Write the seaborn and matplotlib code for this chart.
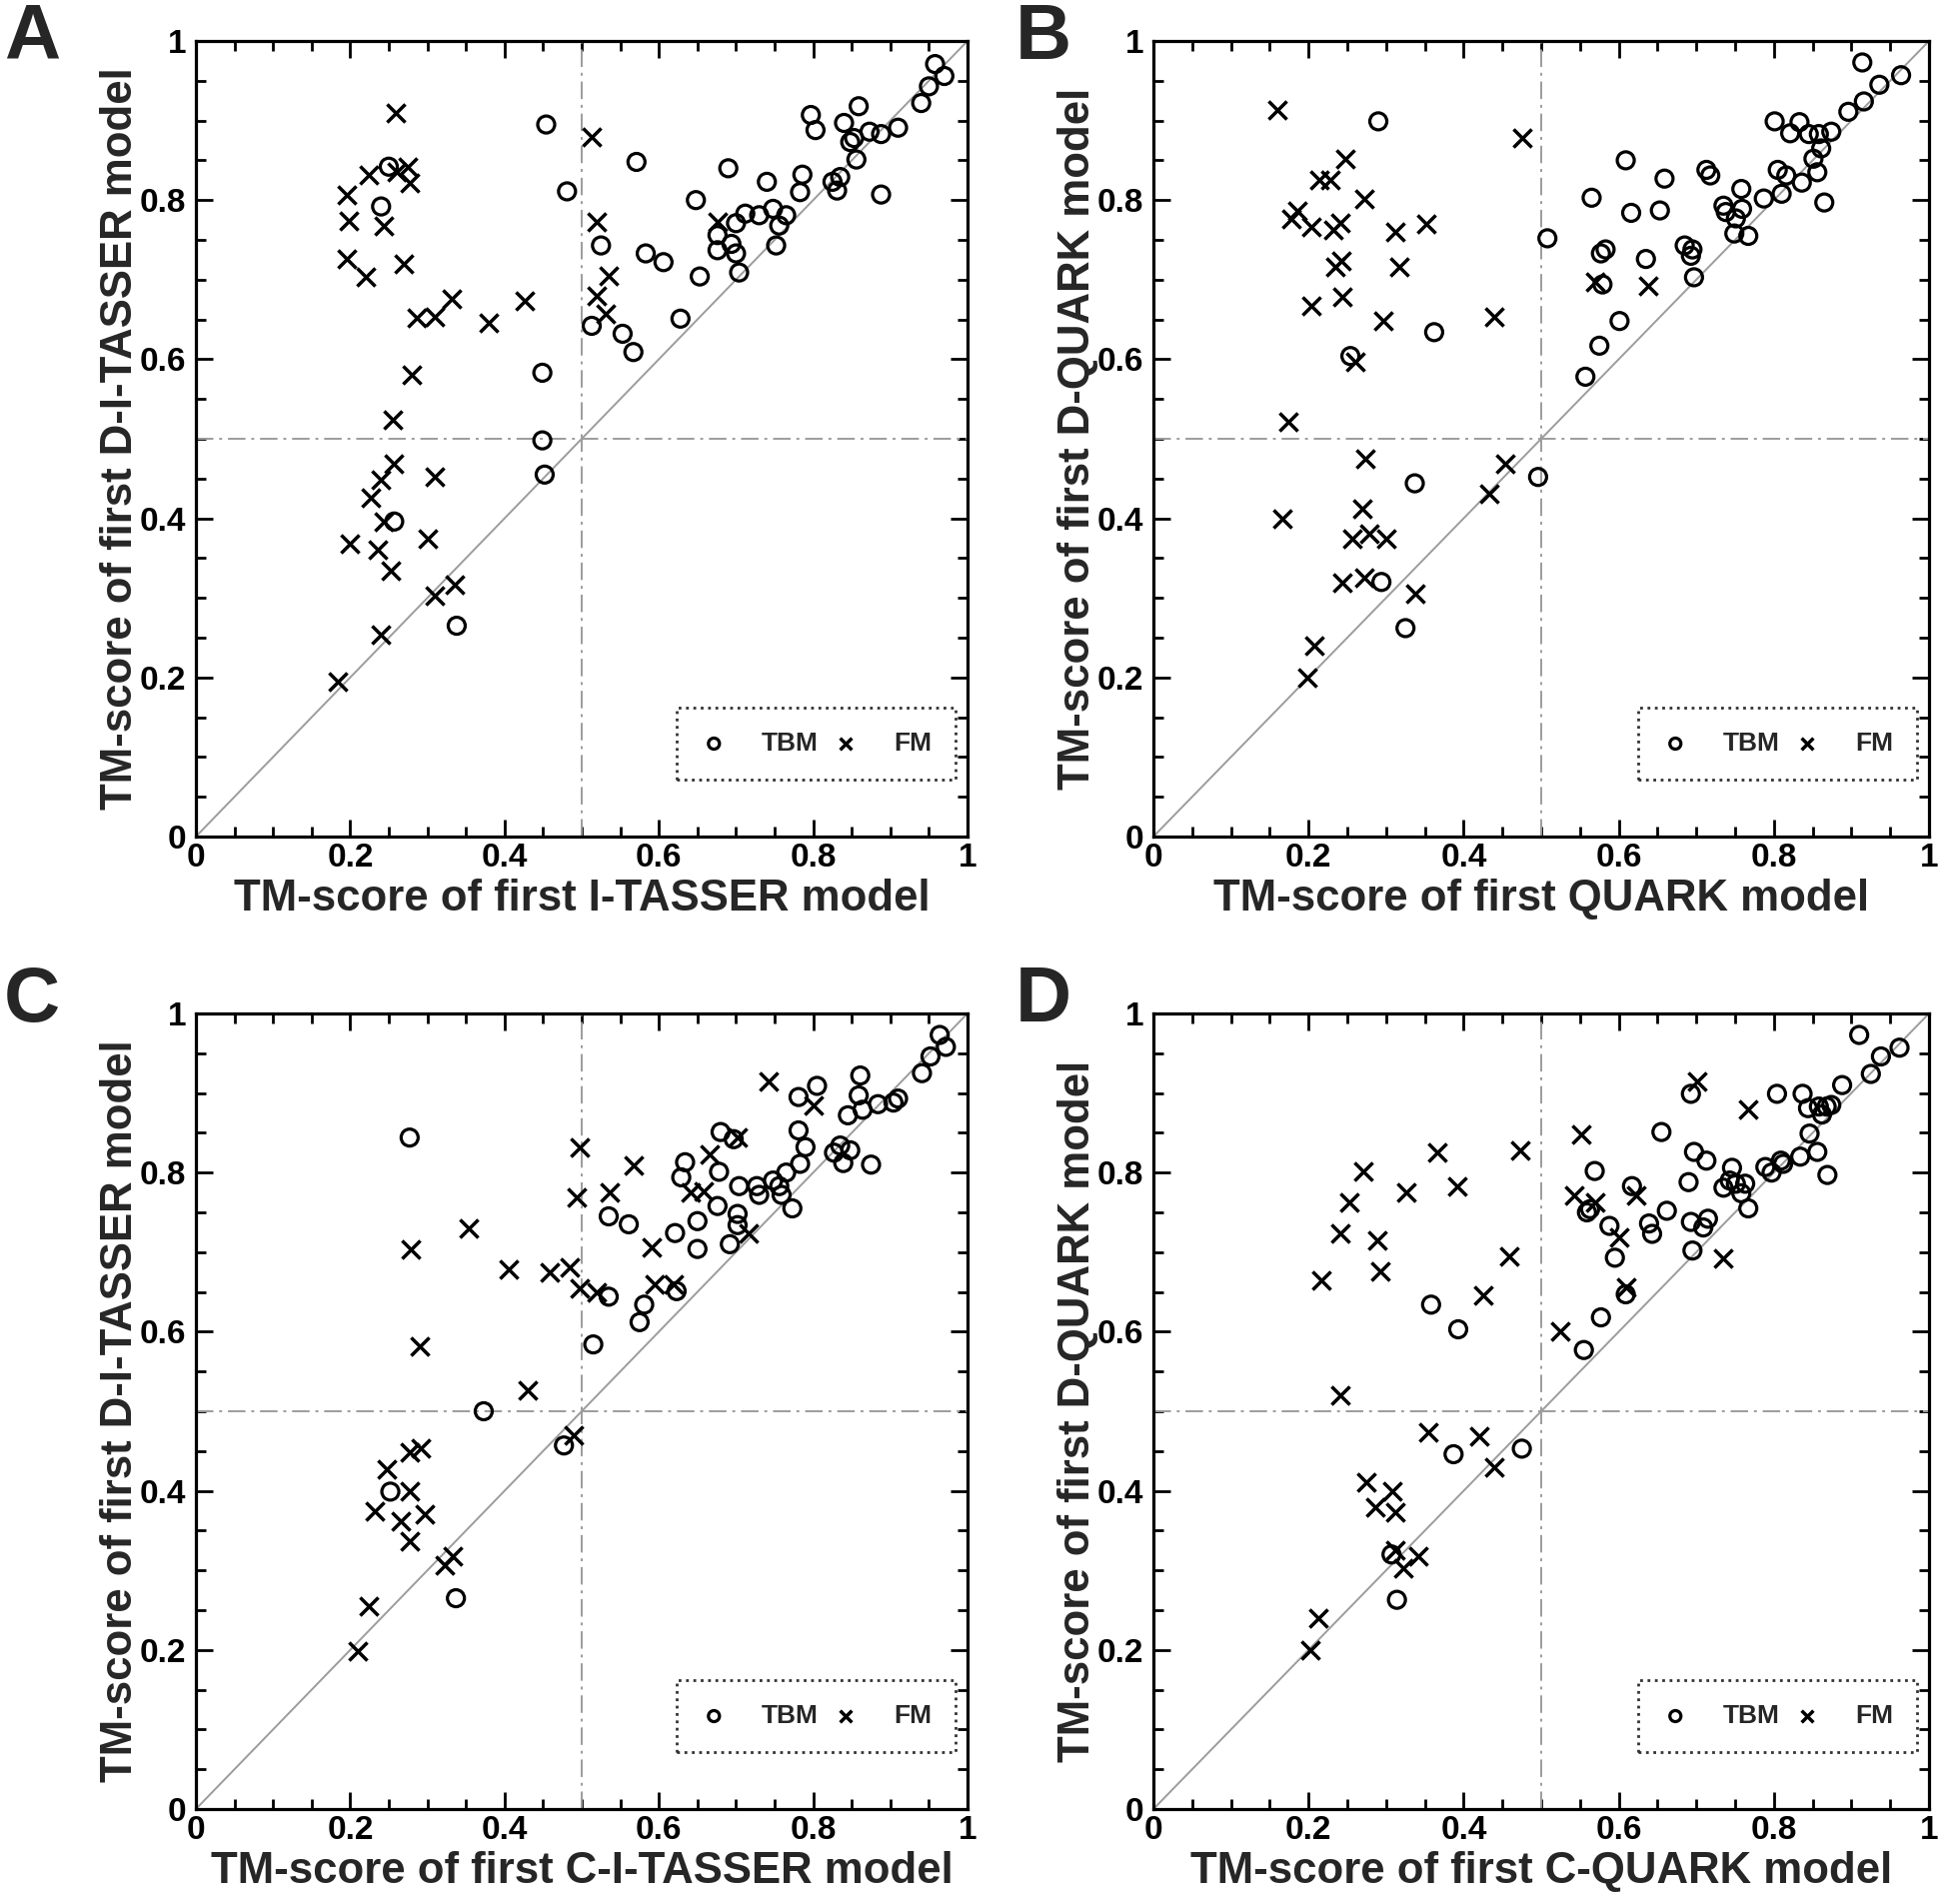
import numpy as np
import pandas as pd
import matplotlib
matplotlib.use("Agg")
import matplotlib.pyplot as plt
import seaborn as sns
from matplotlib.ticker import MultipleLocator, FuncFormatter

# ---- data (TBM = circles, FM = crosses) ----
a_tbm_x = [0.454, 0.571, 0.481, 0.240, 0.250, 0.449, 0.449, 0.452, 0.257, 0.338,
           0.513, 0.525, 0.553, 0.567, 0.583, 0.606, 0.628, 0.648, 0.653, 0.690,
           0.676, 0.676, 0.694, 0.700, 0.700, 0.704, 0.712, 0.730, 0.740, 0.748,
           0.756, 0.752, 0.765, 0.786, 0.783, 0.797, 0.803, 0.825, 0.831, 0.835,
           0.840, 0.848, 0.853, 0.856, 0.859, 0.873, 0.888, 0.888, 0.910, 0.940,
           0.950, 0.958, 0.970]
a_tbm_y = [0.895, 0.848, 0.811, 0.792, 0.842, 0.583, 0.498, 0.455, 0.396, 0.265,
           0.642, 0.743, 0.632, 0.609, 0.733, 0.722, 0.651, 0.800, 0.704, 0.840,
           0.756, 0.737, 0.745, 0.771, 0.733, 0.709, 0.783, 0.781, 0.823, 0.789,
           0.768, 0.743, 0.781, 0.832, 0.810, 0.907, 0.888, 0.823, 0.812, 0.829,
           0.897, 0.873, 0.878, 0.851, 0.918, 0.886, 0.883, 0.807, 0.891, 0.922,
           0.943, 0.971, 0.956]
a_fm_x = [0.259, 0.224, 0.196, 0.198, 0.196, 0.220, 0.244, 0.260, 0.275, 0.277,
          0.269, 0.286, 0.309, 0.331, 0.379, 0.426, 0.280, 0.255, 0.257, 0.240,
          0.227, 0.244, 0.200, 0.236, 0.252, 0.240, 0.184, 0.301, 0.309, 0.309,
          0.335, 0.513, 0.520, 0.520, 0.535, 0.531, 0.676]
a_fm_y = [0.910, 0.832, 0.806, 0.774, 0.726, 0.704, 0.768, 0.836, 0.842, 0.821,
          0.720, 0.652, 0.653, 0.676, 0.646, 0.673, 0.580, 0.524, 0.468, 0.448,
          0.426, 0.396, 0.368, 0.360, 0.334, 0.254, 0.195, 0.374, 0.452, 0.303,
          0.316, 0.880, 0.773, 0.680, 0.705, 0.657, 0.773]

b_tbm_x = [0.290, 0.254, 0.362, 0.337, 0.294, 0.325, 0.496, 0.508, 0.557, 0.575,
           0.601, 0.565, 0.577, 0.583, 0.579, 0.609, 0.616, 0.635, 0.653, 0.659,
           0.685, 0.695, 0.693, 0.697, 0.713, 0.718, 0.735, 0.738, 0.751, 0.749,
           0.759, 0.758, 0.767, 0.787, 0.801, 0.805, 0.810, 0.816, 0.821, 0.833,
           0.836, 0.845, 0.851, 0.856, 0.858, 0.861, 0.865, 0.874, 0.896, 0.916,
           0.914, 0.936, 0.964]
b_tbm_y = [0.899, 0.604, 0.634, 0.444, 0.320, 0.262, 0.452, 0.752, 0.578, 0.617,
           0.648, 0.803, 0.733, 0.738, 0.694, 0.850, 0.784, 0.726, 0.787, 0.827,
           0.743, 0.738, 0.730, 0.703, 0.838, 0.831, 0.793, 0.785, 0.777, 0.758,
           0.789, 0.814, 0.755, 0.802, 0.899, 0.838, 0.808, 0.831, 0.884, 0.898,
           0.822, 0.883, 0.852, 0.835, 0.883, 0.865, 0.797, 0.886, 0.911, 0.924,
           0.973, 0.945, 0.957]
b_fm_x = [0.160, 0.475, 0.248, 0.214, 0.228, 0.272, 0.186, 0.178, 0.203, 0.232,
          0.241, 0.312, 0.352, 0.234, 0.242, 0.317, 0.204, 0.244, 0.296, 0.439,
          0.260, 0.569, 0.638, 0.174, 0.273, 0.453, 0.433, 0.269, 0.166, 0.257,
          0.278, 0.300, 0.272, 0.244, 0.337, 0.208, 0.198]
b_fm_y = [0.913, 0.878, 0.852, 0.825, 0.826, 0.802, 0.787, 0.776, 0.766, 0.762,
          0.771, 0.760, 0.770, 0.716, 0.724, 0.716, 0.667, 0.678, 0.648, 0.653,
          0.597, 0.697, 0.692, 0.521, 0.475, 0.469, 0.431, 0.412, 0.400, 0.375,
          0.381, 0.375, 0.326, 0.319, 0.305, 0.240, 0.200]

c_tbm_x = [0.277, 0.373, 0.252, 0.337, 0.477, 0.515, 0.535, 0.535, 0.561, 0.575,
           0.581, 0.621, 0.623, 0.629, 0.634, 0.650, 0.650, 0.676, 0.678, 0.680,
           0.692, 0.702, 0.702, 0.704, 0.697, 0.727, 0.730, 0.748, 0.756, 0.759,
           0.773, 0.781, 0.781, 0.783, 0.790, 0.805, 0.765, 0.827, 0.835, 0.839,
           0.848, 0.845, 0.861, 0.859, 0.864, 0.875, 0.884, 0.904, 0.910, 0.941,
           0.952, 0.964, 0.972]
c_tbm_y = [0.844, 0.500, 0.399, 0.265, 0.457, 0.584, 0.745, 0.644, 0.735, 0.612,
           0.634, 0.724, 0.651, 0.794, 0.813, 0.739, 0.704, 0.758, 0.801, 0.851,
           0.710, 0.748, 0.734, 0.783, 0.842, 0.783, 0.772, 0.790, 0.783, 0.772,
           0.755, 0.895, 0.853, 0.811, 0.832, 0.909, 0.800, 0.825, 0.834, 0.812,
           0.828, 0.872, 0.922, 0.897, 0.879, 0.810, 0.886, 0.888, 0.893, 0.925,
           0.946, 0.973, 0.958]
c_fm_x = [0.498, 0.567, 0.742, 0.801, 0.666, 0.702, 0.494, 0.536, 0.641, 0.658,
          0.353, 0.279, 0.406, 0.458, 0.485, 0.497, 0.520, 0.591, 0.595, 0.619,
          0.716, 0.290, 0.430, 0.490, 0.277, 0.291, 0.247, 0.277, 0.232, 0.265,
          0.297, 0.277, 0.323, 0.333, 0.224, 0.210]
c_fm_y = [0.832, 0.809, 0.914, 0.885, 0.823, 0.844, 0.769, 0.775, 0.775, 0.776,
          0.730, 0.704, 0.679, 0.674, 0.681, 0.655, 0.650, 0.706, 0.659, 0.659,
          0.724, 0.582, 0.527, 0.470, 0.449, 0.453, 0.427, 0.400, 0.374, 0.362,
          0.370, 0.337, 0.306, 0.318, 0.255, 0.198]

d_tbm_x = [0.358, 0.393, 0.387, 0.475, 0.307, 0.314, 0.555, 0.577, 0.609, 0.595,
           0.588, 0.559, 0.563, 0.569, 0.617, 0.639, 0.643, 0.662, 0.655, 0.690,
           0.693, 0.695, 0.693, 0.697, 0.709, 0.713, 0.715, 0.735, 0.746, 0.743,
           0.751, 0.758, 0.763, 0.767, 0.789, 0.797, 0.804, 0.809, 0.812, 0.834,
           0.837, 0.844, 0.846, 0.856, 0.858, 0.862, 0.868, 0.874, 0.869, 0.888,
           0.910, 0.925, 0.938, 0.962]
d_tbm_y = [0.634, 0.603, 0.446, 0.453, 0.320, 0.263, 0.577, 0.618, 0.647, 0.693,
           0.733, 0.750, 0.754, 0.802, 0.783, 0.736, 0.723, 0.752, 0.851, 0.788,
           0.738, 0.702, 0.899, 0.826, 0.731, 0.815, 0.742, 0.781, 0.806, 0.790,
           0.786, 0.774, 0.786, 0.755, 0.807, 0.800, 0.899, 0.815, 0.811, 0.820,
           0.899, 0.881, 0.849, 0.826, 0.883, 0.873, 0.883, 0.885, 0.797, 0.910,
           0.973, 0.924, 0.946, 0.957]
d_fm_x = [0.701, 0.767, 0.551, 0.473, 0.366, 0.270, 0.392, 0.326, 0.253, 0.543,
          0.569, 0.623, 0.241, 0.289, 0.601, 0.292, 0.216, 0.459, 0.425, 0.609,
          0.735, 0.524, 0.241, 0.354, 0.420, 0.439, 0.274, 0.308, 0.286, 0.312,
          0.312, 0.322, 0.341, 0.212, 0.202]
d_fm_y = [0.914, 0.880, 0.848, 0.828, 0.825, 0.802, 0.783, 0.775, 0.762, 0.771,
          0.762, 0.771, 0.723, 0.715, 0.718, 0.676, 0.665, 0.695, 0.646, 0.656,
          0.692, 0.600, 0.520, 0.474, 0.468, 0.430, 0.411, 0.400, 0.380, 0.373,
          0.325, 0.303, 0.318, 0.240, 0.200]

panels = [
    ("A", "TM-score of first I-TASSER model", "TM-score of first D-I-TASSER model",
     a_tbm_x, a_tbm_y, a_fm_x, a_fm_y),
    ("B", "TM-score of first QUARK model", "TM-score of first D-QUARK model",
     b_tbm_x, b_tbm_y, b_fm_x, b_fm_y),
    ("C", "TM-score of first C-I-TASSER model", "TM-score of first D-I-TASSER model",
     c_tbm_x, c_tbm_y, c_fm_x, c_fm_y),
    ("D", "TM-score of first C-QUARK model", "TM-score of first D-QUARK model",
     d_tbm_x, d_tbm_y, d_fm_x, d_fm_y),
]

sns.set_style("ticks")
plt.rcParams["font.family"] = ["Liberation Sans", "DejaVu Sans"]
plt.rcParams["font.weight"] = "bold"

W, H = 1950, 1905
fig = plt.figure(figsize=(W / 100, H / 100), dpi=100)

# axes rectangles in pixels (left, top, right, bottom) and letter positions
rects = [(196, 41, 968, 837), (1154, 41, 1930, 837),
         (196, 1014, 968, 1810), (1154, 1014, 1930, 1810)]
letter_pos = [(4, 2), (1016, 2), (4, 965), (1016, 965)]

fmt = FuncFormatter(lambda v, p: "%g" % round(v, 2))
ref_gray = "#9c9c9c"

for (letter, xlab, ylab, tx, ty, fx, fy), (l, t, r, b), (lx, ly) in zip(panels, rects, letter_pos):
    ax = fig.add_axes([l / W, 1 - b / H, (r - l) / W, (b - t) / H])

    # reference lines
    ax.axline((0, 0), (1, 1), color=ref_gray, lw=1.4, zorder=1)
    ax.axvline(0.5, color=ref_gray, lw=1.4, dashes=(9, 3, 1.5, 3), zorder=1)
    ax.axhline(0.5, color=ref_gray, lw=1.4, dashes=(9, 3, 1.5, 3), zorder=1)

    tbm = pd.DataFrame({"x": tx, "y": ty})
    fm = pd.DataFrame({"x": fx, "y": fy})
    sns.scatterplot(data=tbm, x="x", y="y", ax=ax, marker="o", s=150,
                    facecolors="none", edgecolor="black", linewidth=2.3,
                    color="black", label="TBM", zorder=3)
    sns.scatterplot(data=fm, x="x", y="y", ax=ax, marker="x", s=170,
                    linewidth=2.5, color="black", label="FM", zorder=3)

    ax.set_xlim(0, 1)
    ax.set_ylim(0, 1)
    ax.xaxis.set_major_locator(MultipleLocator(0.2))
    ax.yaxis.set_major_locator(MultipleLocator(0.2))
    ax.xaxis.set_minor_locator(MultipleLocator(0.05))
    ax.yaxis.set_minor_locator(MultipleLocator(0.05))
    ax.xaxis.set_major_formatter(fmt)
    ax.yaxis.set_major_formatter(fmt)
    ax.tick_params(which="both", direction="in", top=True, right=True,
                   width=2, colors="black")
    ax.tick_params(which="major", length=12, labelsize=24)
    ax.tick_params(which="minor", length=7)
    ax.tick_params(axis="x", which="major", pad=4)
    ax.tick_params(axis="y", which="major", pad=7)
    for lab in ax.get_xticklabels() + ax.get_yticklabels():
        lab.set_fontweight("bold")
    for sp in ax.spines.values():
        sp.set_linewidth(2.3)
        sp.set_color("black")

    ax.set_xlabel(xlab, fontsize=31.5, fontweight="bold", labelpad=4)
    ax.set_ylabel(ylab, fontsize=31.5, fontweight="bold", labelpad=-1)

    leg = ax.legend(loc="lower right", bbox_to_anchor=(0.984, 0.072), ncol=2,
                    fontsize=19, markerscale=0.65, handlelength=1.0,
                    handletextpad=1.3, columnspacing=0.55, borderaxespad=0,
                    fancybox=False, frameon=True, borderpad=0.9)
    frame = leg.get_frame()
    frame.set_linestyle(":")
    frame.set_edgecolor("black")
    frame.set_linewidth(2)
    for txt in leg.get_texts():
        txt.set_fontweight("bold")

    fig.text(lx / W, 1 - ly / H, letter, fontsize=56,
             fontweight="bold", ha="left", va="top")

fig.savefig("out.png", dpi=100, facecolor="white")
